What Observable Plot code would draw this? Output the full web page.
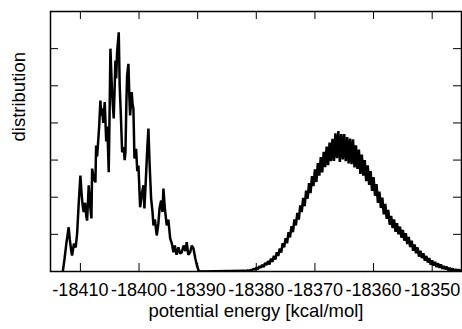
<!DOCTYPE html>
<html><head><meta charset="utf-8">
<script src="https://cdn.jsdelivr.net/npm/d3@7"></script>
<script src="https://cdn.jsdelivr.net/npm/@observablehq/plot@0.6"></script>
<style>body{margin:0;background:#fff}</style>
</head><body><div id="chart"></div>
<script>
const xTicks = [-18410, -18400, -18390, -18380, -18370, -18360, -18350];
const xTickLabels = ["-18410", "-18400", "-18390", "-18380", "-18370", "-18360", "-18350"];
const yTicks = [1, 2, 3, 4, 5, 6];
const xLabel = "potential energy [kcal/mol]";
const yLabel = "distribution";

// narrow (noisy) distribution
const leftEnergy = [-18413.0,-18412.7,-18412.4,-18412.0,-18411.8,-18411.6,-18411.42,-18411.1,-18410.8,-18410.56,-18410.3,-18410.0,-18409.8,-18409.6,-18409.44,-18409.2,-18409.0,-18408.86,-18408.7,-18408.58,-18408.35,-18408.12,-18408.0,-18407.7,-18407.44,-18407.32,-18407.15,-18406.98,-18406.8,-18406.59,-18406.45,-18406.3,-18406.1,-18405.85,-18405.6,-18405.4,-18405.17,-18405.0,-18404.88,-18404.6,-18404.32,-18404.15,-18404.03,-18403.9,-18403.74,-18403.46,-18403.3,-18403.1,-18402.88,-18402.61,-18402.45,-18402.32,-18402.15,-18402.03,-18401.81,-18401.65,-18401.52,-18401.25,-18401.1,-18400.96,-18400.78,-18400.5,-18400.3,-18400.1,-18399.81,-18399.5,-18399.25,-18399.08,-18398.8,-18398.6,-18398.4,-18398.2,-18397.94,-18397.7,-18397.54,-18397.3,-18396.98,-18396.7,-18396.5,-18396.23,-18396.0,-18395.84,-18395.6,-18395.27,-18395.0,-18394.69,-18394.4,-18394.13,-18393.9,-18393.6,-18393.28,-18393.0,-18392.71,-18392.4,-18392.1,-18391.86,-18391.6,-18391.28,-18391.0,-18390.72,-18390.4,-18390.1,-18389.86,-18389.5];
const leftDist = [0,0.35,0.75,1.19,0.85,0.6,0.43,0.75,0.65,1.02,1.8,2.58,2.1,1.75,1.6,1.85,1.5,1.37,1.9,2.32,1.8,1.43,2.77,2.5,2.4,3.39,3.1,3.48,3.9,4.6,4.2,4.39,4.0,4.56,3.5,3.9,2.67,4.5,6.0,4.8,4.12,5.0,5.68,5.2,5.9,6.44,5.0,4.2,3.21,3.35,3.0,3.21,4.6,5.28,5.59,4.7,4.2,4.83,4.5,4.39,3.04,3.3,2.7,2.85,1.73,2.1,2.32,1.7,2.6,3.3,3.85,2.9,1.97,1.6,1.24,1.4,0.97,1.3,1.7,1.91,1.6,2.23,1.7,1.24,1.4,0.89,0.75,0.52,0.7,0.45,0.65,0.48,0.52,0.7,0.55,0.79,0.45,0.52,0.7,0.62,0.35,0.15,0.03,0];

// broad distribution, histogram bins of 0.25 kcal/mol starting at -18382
const rightStart = -18382;
const rightStep = 0.25;
const rightDist = [
0.02,0.01,0.03,0.02, 0.04,0.03,0.07,0.05, 0.10,0.06,0.14,0.10, 0.18,0.12,0.23,0.17,
0.28,0.19,0.35,0.26, 0.42,0.32,0.52,0.42, 0.62,0.51,0.76,0.65, 0.90,0.76,1.06,0.92,
1.22,1.06,1.40,1.24, 1.58,1.40,1.78,1.60, 1.98,1.76,2.18,1.96, 2.38,2.11,2.57,2.30,
2.75,2.41,2.92,2.58, 3.08,2.67,3.22,2.81, 3.36,2.86,3.47,2.97, 3.57,2.98,3.72,3.05,
3.78,2.95,3.70,3.02, 3.70,2.97,3.62,2.91, 3.58,2.89,3.56,2.80, 3.40,2.76,3.28,2.63,
3.15,2.58,3.00,2.43, 2.86,2.33,2.70,2.17, 2.54,2.04,2.35,1.85, 2.15,1.71,1.99,1.54,
1.82,1.42,1.66,1.26, 1.50,1.17,1.40,1.07, 1.30,1.00,1.21,0.91, 1.12,0.83,1.03,0.74,
0.93,0.66,0.83,0.56, 0.73,0.49,0.65,0.40, 0.56,0.36,0.49,0.29, 0.42,0.24,0.36,0.18,
0.30,0.16,0.26,0.12, 0.22,0.10,0.19,0.07, 0.15,0.06,0.13,0.03, 0.10,0.03,0.08,0.01,
0.06,0.02,0.05,0.01, 0.04];

const data = [];
leftEnergy.forEach((e, i) => data.push({energy: e, dist: leftDist[i]}));
rightDist.forEach((v, i) => data.push({energy: rightStart + i * rightStep, dist: v}));

const chart = Plot.plot({
  width: 462, height: 329,
  marginLeft: 50, marginRight: 1, marginTop: 11, marginBottom: 58,
  style: {fontFamily: "'Liberation Sans', Arial, sans-serif", background: "#fff", color: "#000"},
  x: {domain: [-18415.1, -18345.0]},
  y: {domain: [0, 7], axis: null},
  marks: [
    Plot.line(data, {x: "energy", y: "dist", stroke: "#000", strokeWidth: 2.5, strokeLinejoin: "miter", clip: true}),
    Plot.tickX(xTicks, {x: d => d, insetTop: 252, stroke: "#000"}),
    Plot.tickX(xTicks, {x: d => d, insetBottom: 252, stroke: "#000"}),
    Plot.tickY(yTicks, {y: d => d, insetRight: 403, stroke: "#000"}),
    Plot.tickY(yTicks, {y: d => d, insetLeft: 403, stroke: "#000"}),
    Plot.frame({stroke: "#000", strokeWidth: 1.5}),
    Plot.axisX(xTicks, {tickSize: 0, tickPadding: 12, fontSize: 18, tickFormat: d => xTickLabels[xTicks.indexOf(d)], label: null}),
    Plot.text([xLabel], {text: d => d, frameAnchor: "bottom", dy: 45, fontSize: 18.5}),
    Plot.text([yLabel], {text: d => d, frameAnchor: "left", rotate: -90, dx: -31, fontSize: 18.5})
  ]
});
document.getElementById("chart").append(chart);
</script>
</body></html>
